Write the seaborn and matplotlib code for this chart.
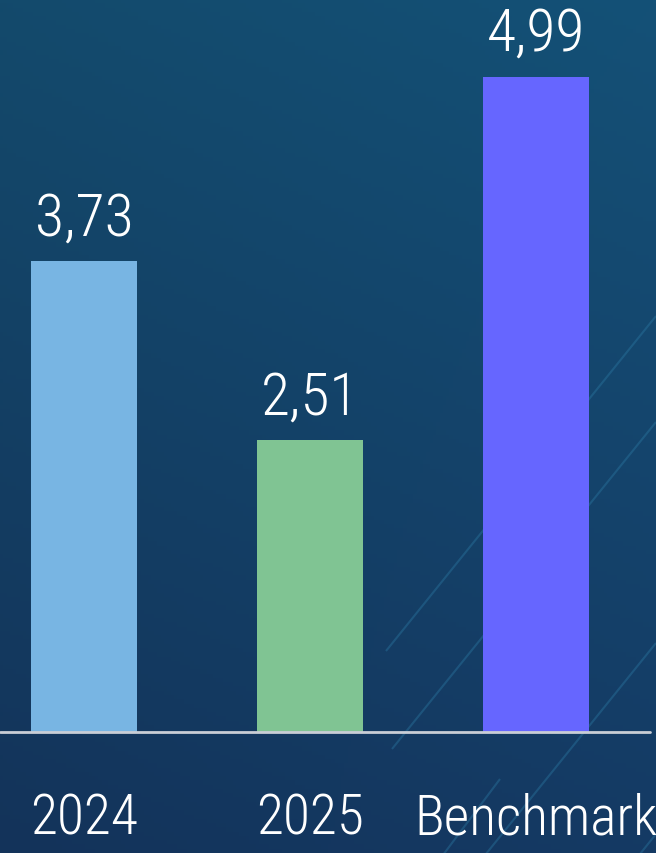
import numpy as np
import pandas as pd
import matplotlib
matplotlib.use("Agg")
import matplotlib.pyplot as plt
import seaborn as sns
from matplotlib import font_manager as fm
from matplotlib.colors import to_rgb
import os

# ---- data ----
categories = ["2024", "2025", "Benchmark"]
values = [3.73, 2.51, 4.99]
value_labels = ["3,73", "2,51", "4,99"]
bar_colors = ["#78b5e3", "#80c493", "#6666ff"]

sns.set_theme(style="white")
plt.rcParams["font.family"] = ["Roboto", "DejaVu Sans"]

# look for a condensed light sans face among installed fonts
files = [f.fname for f in fm.fontManager.ttflist]
def norm(fn):
    return os.path.basename(fn).lower().replace("_", "").replace(" ", "").replace("-", "")
exact = ["notosansextracondensedlight", "notosansdisplayextracondensedlight",
         "notosanscondensedlight", "notosansdisplaycondensedlight",
         "opensanscondensedlight", "robotocondensedlight"]
chosen = None
for e in exact:
    for fn in files:
        if norm(fn).startswith(e + "."):
            chosen = fn
            break
    if chosen:
        break
if not chosen:
    for p in ["extracondensedlight", "condensedlight", "narrow", "condensed"]:
        for fn in files:
            b = norm(fn)
            if (p in b and "italic" not in b and "bold" not in b
                    and "mono" not in b and "serif" not in b):
                chosen = fn
                break
        if chosen:
            break
if chosen:
    fp_val = fm.FontProperties(fname=chosen, size=43)
    fp_tick = fm.FontProperties(fname=chosen, size=40)
else:
    fp_val = fm.FontProperties(family=["Roboto", "DejaVu Sans"], weight="light", size=33)
    fp_tick = fm.FontProperties(family=["Roboto", "DejaVu Sans"], weight="light", size=33)

W, H = 656, 854
fig = plt.figure(figsize=(W / 100, H / 100), dpi=100)

# background gradient
bg = fig.add_axes([0, 0, 1, 1])
tl, tr = np.array(to_rgb("#134a6c")), np.array(to_rgb("#145177"))
bl, br = np.array(to_rgb("#13335a")), np.array(to_rgb("#153a64"))
yy, xx = np.mgrid[0:1:200j, 0:1:200j]
grad = ((1 - yy)[..., None] * ((1 - xx)[..., None] * tl + xx[..., None] * tr)
        + yy[..., None] * ((1 - xx)[..., None] * bl + xx[..., None] * br))
bg.imshow(grad, extent=[0, W, H, 0], aspect="auto", origin="upper", zorder=0)
# faint diagonal decorative streaks (pixel space of the background)
streaks = [((656, 317), (386, 652)), ((656, 423), (392, 750)),
           ((656, 644), (440, 912)), ((500, 780), (440, 860)),
           ((656, 835), (636, 860))]
for (xa, ya), (xb, yb) in streaks:
    bg.plot([xa, xb], [ya, yb], color="#2c7aa4", alpha=0.4, lw=1.5, zorder=1,
            solid_capstyle="butt")
bg.set_xlim(0, W)
bg.set_ylim(H, 0)
bg.axis("off")

ymin, ymax = 0.52, 5.52
ax = fig.add_axes([0, 121 / H, 1, 733 / H])
ax.patch.set_alpha(0)
df = pd.DataFrame({"cat": categories, "val": values})
sns.barplot(data=df, x="cat", y="val", hue="cat", palette=bar_colors,
            width=0.47, saturation=1, legend=False, ax=ax, zorder=3,
            edgecolor="none", linewidth=0)
ax.set_xlim(-84 / 226, (W - 84) / 226)
ax.set_ylim(ymin, ymax)
for s in ax.spines.values():
    s.set_visible(False)
ax.set_xticks([])
ax.set_yticks([])
ax.set_xlabel("")
ax.set_ylabel("")
ax.axhline(ymin, xmin=0, xmax=650 / W, color="#c9ced6", lw=2, clip_on=False, zorder=4)

for i, (v, lab) in enumerate(zip(values, value_labels)):
    ax.annotate(lab, xy=(i, v), xytext=(0, 27 * 0.72), textcoords="offset points",
                ha="center", va="baseline", fontproperties=fp_val, color="white",
                annotation_clip=False)
for i, cat in enumerate(categories):
    ax.annotate(cat, xy=(i, ymin), xytext=(0, -102 * 0.72), textcoords="offset points",
                ha="center", va="baseline", fontproperties=fp_tick, color="white",
                annotation_clip=False)

fig.savefig("out.png", dpi=100)
